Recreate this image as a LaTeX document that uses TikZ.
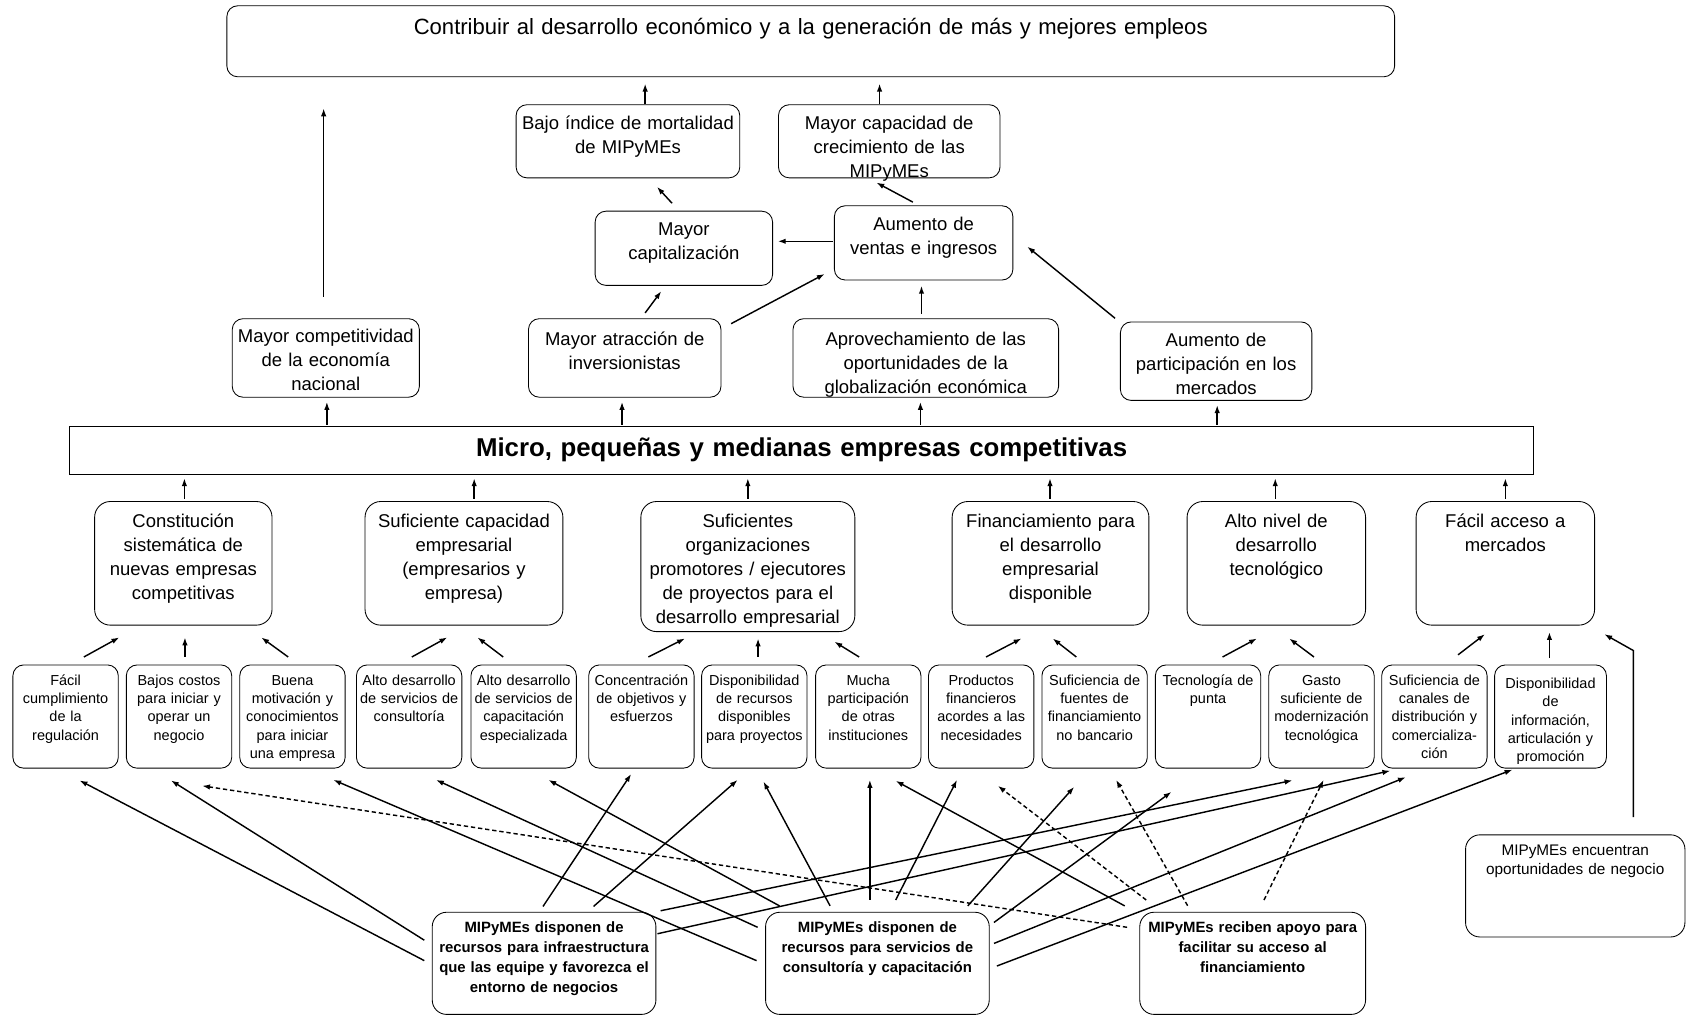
\documentclass[tikz,border=0pt]{standalone}
\usepackage{fontspec}
\setmainfont{Liberation Sans}
\usetikzlibrary{arrows.meta,calc}

\tikzset{every picture/.style={line width=0.75pt}}
\tikzset{
	box/.style={draw, line width=0.6pt, align=center, inner sep=0pt, anchor=north, rounded corners=7.5pt},
	big/.style={font=\fontsize{12.9pt}{16.75pt}\selectfont},
	sml/.style={font=\fontsize{10.1pt}{12.75pt}\selectfont},
	mid/.style n args={3}{box, big, text width=#1, text height=#2, text depth=#3},
	cbox/.style={box, big, rounded corners=11pt, text width=#1, text height=18pt, text depth=68.25pt},
	sbox/.style={box, sml, text width=#1, text height=14.25pt, text depth=57.75pt},
	sbox/.default=73.5pt,
	bbox/.style={box, font=\bfseries\fontsize{10.4pt}{13.9pt}\selectfont, rounded corners=10pt, text width=#1, text height=14.25pt, text depth=57pt},
	arr/.style={-{Latex[length=5.5pt,width=3.8pt]}, line width=1pt},
	dsh/.style={arr, dash pattern=on 3pt off 2pt},
}

\begin{document}
\begin{tikzpicture}[x=0.75pt,y=0.75pt,yscale=-1,xscale=1]
	\useasboundingbox (0,0) rectangle (1568,945);
	
	% Goal
	\node[box, font=\fontsize{15.4pt}{19pt}\selectfont, text width=814.5pt, text height=20.25pt, text depth=29.25pt] (goal) at (754,5) {Contribuir al desarrollo económico y a la generación de más y mejores empleos};
	
	% Effects
	\node[mid={156pt}{17.25pt}{33.75pt}] (bajo) at (584,97) {Bajo índice de mortalidad\\de MIPyMEs};
	\node[mid={154.5pt}{17.25pt}{33.75pt}] (crec) at (827,97) {Mayor capacidad de\\crecimiento de las\\MIPyMEs};
	\node[mid={123.75pt}{17.25pt}{34.5pt}] (capit) at (636,196) {Mayor\\capitalización};
	\node[mid={124.5pt}{17.25pt}{34.5pt}] (ventas) at (859,191) {Aumento de\\ventas e ingresos};
	\node[mid={130.5pt}{16.5pt}{38.25pt}] (compet) at (303,296) {Mayor competitividad\\de la economía\\nacional};
	\node[mid={134.25pt}{18.75pt}{36pt}] (inver) at (581,296) {Mayor atracción de\\inversionistas};
	\node[mid={185.25pt}{18.75pt}{36pt}] (glob) at (861,296) {Aprovechamiento de las\\oportunidades de la\\globalización económica};
	\node[mid={133.5pt}{17.25pt}{37.5pt}] (partic) at (1131,299) {Aumento de\\participación en los\\mercados};
	
	% Purpose
	\node[box, sharp corners, font=\bfseries\fontsize{18pt}{22pt}\selectfont, text width=1020.75pt, text height=21pt, text depth=12.75pt] (mipymes) at (745.5,396) {Micro, pequeñas y medianas empresas competitivas};
	
	% Components
	\node[cbox=123.75pt] (constit) at (170.5,466) {Constitución\\sistemática de\\nuevas empresas\\competitivas};
	\node[cbox=138pt] (capemp) at (431.5,466) {Suficiente capacidad\\empresarial\\(empresarios y\\empresa)};
	\node[cbox=149.25pt, text depth=72.75pt] (org) at (695.5,466) {Suficientes\\organizaciones\\promotores / ejecutores\\de proyectos para el\\desarrollo empresarial};
	\node[cbox=137.25pt] (finan) at (977,466) {Financiamiento para\\el desarrollo\\empresarial\\disponible};
	\node[cbox=124.5pt] (tecno) at (1187,466) {Alto nivel de\\desarrollo\\tecnológico};
	\node[cbox=124.5pt] (merc) at (1400,466) {Fácil acceso a\\mercados};
	
	% Means
	\node[sbox] (s1) at (61,618) {Fácil\\cumplimiento\\de la\\regulación};
	\node[sbox] (s2) at (166.5,618) {Bajos costos\\para iniciar y\\operar un\\negocio};
	\node[sbox] (s3) at (272,618) {Buena\\motivación y\\conocimientos\\para iniciar\\una empresa};
	\node[sbox] (s4) at (380.5,618) {Alto desarrollo\\de servicios de\\consultoría};
	\node[sbox] (s5) at (487,618) {Alto desarrollo\\de servicios de\\capacitación\\especializada};
	\node[sbox] (s6) at (596.5,618) {Concentración\\de objetivos y\\esfuerzos};
	\node[sbox] (s7) at (701.5,618) {Disponibilidad\\de recursos\\disponibles\\para proyectos};
	\node[sbox] (s8) at (807.5,618) {Mucha\\participación\\de otras\\instituciones};
	\node[sbox] (s9) at (912.5,618) {Productos\\financieros\\acordes a las\\necesidades};
	\node[sbox] (s10) at (1018,618) {Suficiencia de\\fuentes de\\financiamiento\\no bancario};
	\node[sbox] (s11) at (1123.5,618) {Tecnología de\\punta};
	\node[sbox] (s12) at (1229,618) {Gasto\\suficiente de\\modernización\\tecnológica};
	\node[sbox] (s13) at (1334,618) {Suficiencia de\\canales de\\distribución y\\comercializa-\\ción};
	\node[sbox=78pt, text height=16.5pt, text depth=55.5pt] (s14) at (1442,618) {Disponibilidad\\de\\información,\\articulación y\\promoción};
	
	% Actions
	\node[bbox=156pt] (infra) at (506,848) {MIPyMEs disponen de\\recursos para infraestructura\\que las equipe y favorezca el\\entorno de negocios};
	\node[bbox=156pt] (cons) at (816,848) {MIPyMEs disponen de\\recursos para servicios de\\consultoría y capacitación};
	\node[bbox=157.5pt] (fin) at (1165,848) {MIPyMEs reciben apoyo para\\facilitar su acceso al\\financiamiento};
	\node[box, rounded corners=10pt, font=\fontsize{10.7pt}{13.5pt}\selectfont, text width=153pt, text height=14.25pt, text depth=57pt] (enc) at (1465,776) {MIPyMEs encuentran\\oportunidades de negocio};
	
	% Arrows, upper part
	\draw[arr] ($(bajo.north)+(16,0)$) -- ($(goal.south)+(-154,6)$);
	\draw[arr] ($(crec.north)+(-9,0)$) -- ($(goal.south)+(64,6)$);
	\draw[arr] ($(compet.north)+(-2,-20)$) -- ($(goal.south)+(-453,29)$);
	\draw[arr] ($(capit.north)+(-11,-7)$) -- ($(bajo.south)+(27,8)$);
	\draw[arr] ($(ventas.north)+(-10,-3)$) -- ($(crec.south)+(-12,4)$);
	\draw[arr] ($(ventas.west)+(-1,-1.5)$) -- ($(capit.east)+(4.5,-6.5)$);
	\draw[arr] ($(inver.north)+(19,-5)$) -- ($(capit.south)+(-21,5)$);
	\draw[arr] ($(inver.north)+(99,5)$) -- ($(ventas.south)+(-92,-6)$);
	\draw[arr] ($(glob.north)+(-4,-4)$) -- ($(ventas.south)+(-2,5)$);
	\draw[arr] ($(partic.north)+(-94,-3)$) -- ($(ventas.east)+(13,3.5)$);
	
	% Purpose to effects
	\draw[arr] ($(mipymes.north)+(-441.5,-1)$) -- ($(compet.south)+(1,4)$);
	\draw[arr] ($(mipymes.north)+(-167,-1)$) -- ($(inver.south)+(-2.5,4)$);
	\draw[arr] ($(mipymes.north)+(110.5,-1)$) -- ($(glob.south)+(-5,4)$);
	\draw[arr] ($(mipymes.north)+(386.5,-1)$) -- ($(partic.south)+(1,4)$);
	
	% Components to purpose
	\draw[arr] ($(constit.north)+(1,-2)$) -- ($(mipymes.south)+(-574,3)$);
	\draw[arr] ($(capemp.north)+(9.5,-2)$) -- ($(mipymes.south)+(-304.5,3)$);
	\draw[arr] ($(org.north)+(0,-2)$) -- ($(mipymes.south)+(-50,3)$);
	\draw[arr] ($(finan.north)+(-0.5,-2)$) -- ($(mipymes.south)+(231,3)$);
	\draw[arr] ($(tecno.north)+(-1,-2)$) -- ($(mipymes.south)+(440.5,3)$);
	\draw[arr] ($(merc.north)+(0,-2)$) -- ($(mipymes.south)+(654.5,3)$);
	
	% Means to components
	\draw[arr] ($(s1.north)+(17,-7)$) -- ($(constit.south)+(-59.5,11)$);
	\draw[arr] ($(s2.north)+(5.5,-7)$) -- ($(constit.south)+(1.5,11)$);
	\draw[arr] ($(s3.north)+(-4,-7)$) -- ($(constit.south)+(72.5,11)$);
	\draw[arr] ($(s4.north)+(2.5,-7)$) -- ($(capemp.south)+(-15.5,11)$);
	\draw[arr] ($(s5.north)+(-19,-7)$) -- ($(capemp.south)+(12.5,11)$);
	\draw[arr] ($(s6.north)+(6.5,-7)$) -- ($(org.south)+(-58.5,6)$);
	\draw[arr] ($(s7.north)+(3.5,-7)$) -- ($(org.south)+(9.5,6)$);
	\draw[arr] ($(s8.north)+(-8.5,-7)$) -- ($(org.south)+(80.5,9)$);
	\draw[arr] ($(s9.north)+(4.5,-7)$) -- ($(finan.south)+(-27,12)$);
	\draw[arr] ($(s10.north)+(-17,-7)$) -- ($(finan.south)+(2,12)$);
	\draw[arr] ($(s11.north)+(13.5,-7)$) -- ($(tecno.south)+(-18,12)$);
	\draw[arr] ($(s12.north)+(-7,-7)$) -- ($(tecno.south)+(12,12)$);
	\draw[arr] ($(s13.north)+(22,-9)$) -- ($(merc.south)+(-19,8)$);
	\draw[arr] ($(s14.north)+(-1,-6)$) -- ($(merc.south)+(41,6)$);
	\draw[arr] ($(enc.north)+(54,-16)$) -- ++(0,-155) -- ($(merc.south)+(92,8)$);
	
	% Actions to means
	\draw[arr] ($(infra.west)+(-7,-2.5)$) -- ($(s1.south)+(13,11)$);
	\draw[arr] ($(infra.west)+(-7,-21.5)$) -- ($(s2.south)+(-7.5,11)$);
	\draw[arr] ($(infra.north)+(-1,-5)$) -- ($(s6.south)+(-9.5,5)$);
	\draw[arr] ($(infra.north)+(46,-5)$) -- ($(s7.south)+(-15.5,10.5)$);
	\draw[arr] ($(infra.north east)+(4,-1)$) -- ($(s12.south)+(-27,11)$);
	\draw[arr] ($(infra.east)+(1,-27.5)$) -- ($(s13.south)+(-41,2)$);
	
	\draw[arr] ($(cons.west)+(-8,-2.5)$) -- ($(s3.south)+(38,10.5)$);
	\draw[arr] ($(cons.west)+(-7,-33.5)$) -- ($(s4.south)+(25,10.5)$);
	\draw[arr] ($(cons.north)+(-91,-5.5)$) -- ($(s5.south)+(23,10.5)$);
	\draw[arr] ($(cons.north)+(-44,-5.5)$) -- ($(s7.south)+(8.5,12)$);
	\draw[arr] ($(cons.north)+(-7,-11)$) -- ($(s8.south)+(1.5,10.5)$);
	\draw[arr] ($(cons.north)+(17,-11)$) -- ($(s9.south)+(-22.5,10.5)$);
	\draw[arr] ($(cons.north)+(84,-5.5)$) -- ($(s10.south)+(-19,17)$);
	\draw[arr] ($(cons.east)+(4,-38)$) -- ($(s11.south)+(-34,21.6)$);
	\draw[arr] ($(cons.east)+(4,-18.5)$) -- ($(s13.south)+(-26.5,8)$);
	\draw[arr] ($(cons.east)+(6.7,2.5)$) -- ($(s14.south)+(-35.4,1)$);
	
	\draw[dsh] ($(fin.west)+(-11.4,-33.5)$) -- ($(s2.south)+(21.5,16)$);
	\draw[arr] ($(fin.north)+(-119,-5.5)$) -- ($(s8.south)+(25.5,11.4)$);
	\draw[dsh] ($(fin.north)+(-99,-11)$) -- ($(s9.south)+(15.5,16)$);
	\draw[dsh] ($(fin.north)+(-60.5,-5.7)$) -- ($(s10.south)+(20,10.5)$);
	\draw[dsh] ($(fin.north)+(10.5,-11)$) -- ($(s12.south)+(2,10.5)$);
	
\end{tikzpicture}
\end{document}
